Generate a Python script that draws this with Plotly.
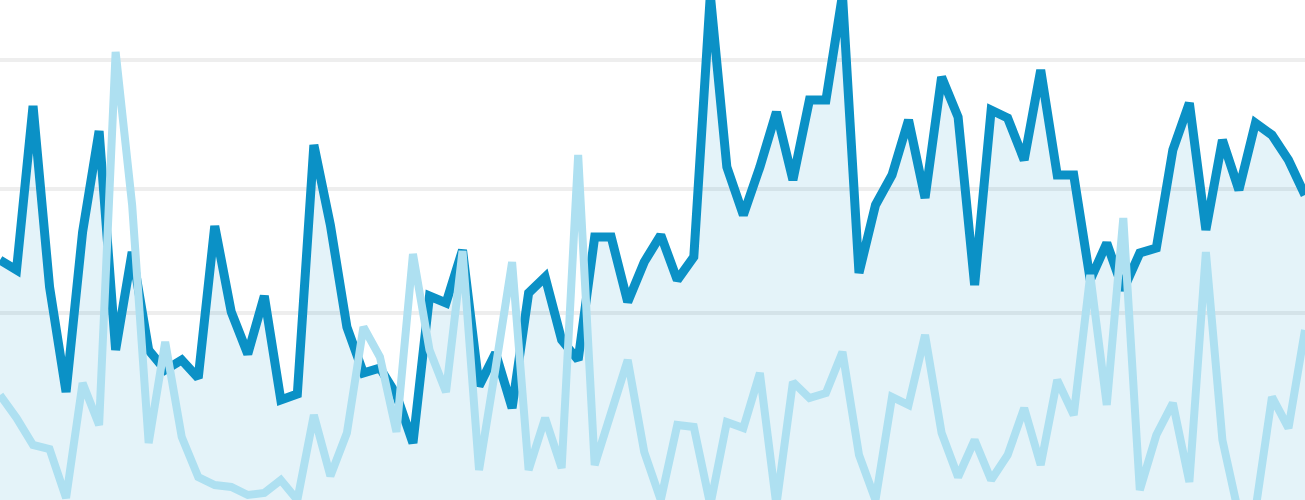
import plotly.graph_objects as go

# Daily index (80 days)
days = list(range(1, 81))

# Main series (dark line, filled)
visits = [
    240, 230, 394, 213, 108, 268, 369, 150, 248, 150,
    130, 140, 122, 274, 188, 146, 204, 100, 106, 355,
    275, 173, 127, 132, 105, 57, 204, 197, 250, 114,
    147, 92, 207, 223, 160, 140, 263, 263, 198, 238,
    265, 220, 243, 505, 333, 285, 333, 388, 320, 400,
    400, 505, 227, 295, 325, 380, 302, 423, 383, 215,
    390, 382, 340, 430, 325, 325, 220, 257, 210, 247,
    252, 350, 397, 270, 360, 310, 377, 365, 340, 305,
]

# Comparison series (light line)
previous = [
    105, 82, 55, 51, 2, 117, 75, 448, 295, 57,
    158, 63, 23, 15, 13, 5, 7, 20, 0, 85,
    24, 67, 173, 143, 68, 246, 150, 108, 249, 30,
    132, 238, 30, 82, 32, 345, 35, 90, 140, 48,
    0, 75, 73, -5, 78, 72, 127, -5, 118, 102,
    107, 148, 45, 0, 103, 95, 165, 67, 23, 60,
    20, 45, 92, 35, 120, 85, 225, 95, 282, 10,
    65, 97, 18, 248, 60, -15, -10, 103, 72, 170,
]

grid_values = [187, 311, 440]

fig = go.Figure()
fig.add_trace(go.Scatter(
    x=days,
    y=visits,
    mode="lines",
    line={"color": "#0b91c6", "width": 9},
    fill="tozeroy",
    fillcolor="rgba(11,145,198,0.11)",
    hoverinfo="skip",
))
fig.add_trace(go.Scatter(
    x=days,
    y=previous,
    mode="lines",
    line={"color": "#aee0f1", "width": 8},
    hoverinfo="skip",
))

fig.update_layout(
    width=1305,
    height=500,
    showlegend=False,
    plot_bgcolor="#ffffff",
    paper_bgcolor="#ffffff",
    margin={"t": 0, "b": 0, "l": 0, "r": 0},
    xaxis={
        "range": [days[0], days[-1]],
        "showgrid": False,
        "zeroline": False,
        "showticklabels": False,
        "showline": False,
        "fixedrange": True,
    },
    yaxis={
        "range": [0, 500],
        "tickvals": grid_values,
        "showgrid": True,
        "gridcolor": "#eeeeee",
        "gridwidth": 4,
        "zeroline": False,
        "showticklabels": False,
        "showline": False,
        "fixedrange": True,
    },
)

# drop the default page margin so the chart fills the window edge to edge
fig.write_html(
    "out.html",
    config={"displayModeBar": False},
    post_script="document.body.style.margin = '0';",
)
